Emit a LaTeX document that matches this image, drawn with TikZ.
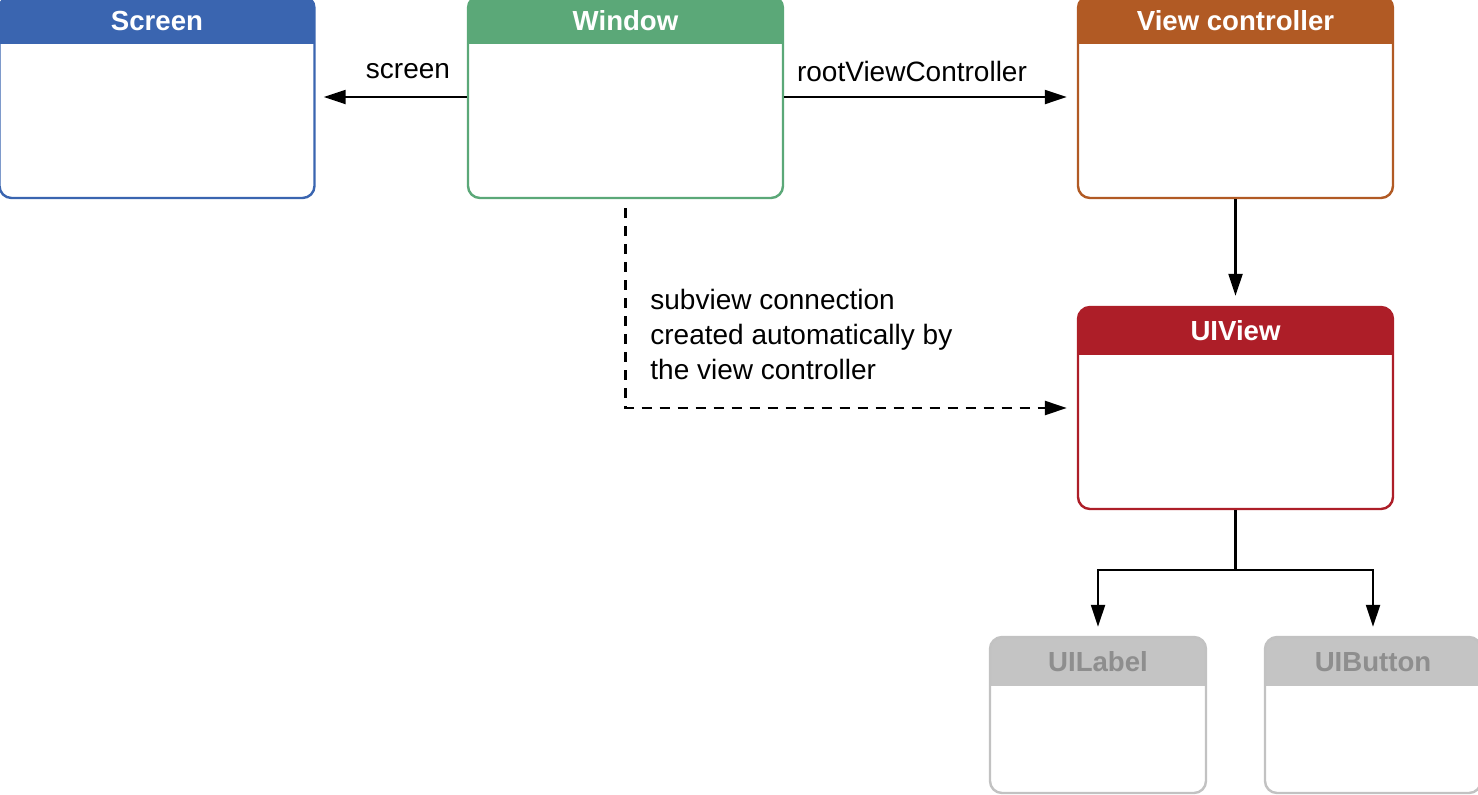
\documentclass[tikz,border=0pt]{standalone}
\usepackage{fontspec}
\setmainfont{Liberation Sans}
\usetikzlibrary{arrows.meta}
\definecolor{cblue}{HTML}{3A65B0}
\definecolor{cgreen}{HTML}{5BA878}
\definecolor{corange}{HTML}{B15A24}
\definecolor{cred}{HTML}{AD1E28}
\definecolor{cgrayh}{HTML}{C4C4C4}
\definecolor{cgrayt}{HTML}{8E8E8E}
\definecolor{cgrayb}{HTML}{C2C2C2}
\begin{document}
\begin{tikzpicture}[x=0.5pt,y=-0.5pt,
  objbox/.style={draw=#1, line width=1.2pt, rounded corners=6pt, fill=white,
    minimum width=157.5pt, minimum height=101pt, inner sep=0pt,
    path picture={\fill[#1, sharp corners] (path picture bounding box.north west) rectangle ([yshift=-24pt]path picture bounding box.north east);}},
  smallbox/.style={draw=cgrayb, line width=1.2pt, rounded corners=6pt, fill=white,
    minimum width=108pt, minimum height=78pt, inner sep=0pt,
    path picture={\fill[cgrayh, sharp corners] (path picture bounding box.north west) rectangle ([yshift=-24.5pt]path picture bounding box.north east);}},
  htitle/.style={text=#1, font=\fontsize{13.8}{16}\selectfont\bfseries, inner sep=0pt},
  lbl/.style={font=\fontsize{14}{17.5}\selectfont, inner sep=0pt},
  conn/.style={line width=1.1pt},
  arr/.style={line width=1.1pt, -{Triangle[length=11pt,width=7pt]}},
  dsh/.style={line width=1.2pt, dash pattern=on 5pt off 4pt, -{Triangle[length=11pt,width=7pt]}}
]
\useasboundingbox (0,0) rectangle (1478,794);
% boxes
\node[objbox=cblue] (screen) at (157,97) {};
\node[objbox=cgreen] (window) at (625.5,97) {};
\node[objbox=corange] (vc) at (1235.5,97) {};
\node[objbox=cred] (uiview) at (1235.5,408) {};
\node[smallbox] (uilabel) at (1098,715) {};
\node[smallbox] (uibutton) at (1373,715) {};
% titles
\node[htitle=white] (screen-t) at (157,21) {Screen};
\node[htitle=white] (window-t) at (625.5,21) {Window};
\node[htitle=white] (vc-t) at (1235.5,21) {View controller};
\node[htitle=white] (uiview-t) at (1235.5,331) {UIView};
\node[htitle=cgrayt] (uilabel-t) at (1098,662) {UILabel};
\node[htitle=cgrayt] (uibutton-t) at (1373,662) {UIButton};
% connectors
\draw[arr, shorten >=4pt] (window.west) -- (screen.east);
\draw[arr, shorten >=5pt] (window.east) -- (vc.west);
\draw[arr, shorten >=5pt] (vc.south) -- (uiview.north);
\draw[dsh, shorten <=4.5pt, shorten >=5pt] (window.south) |- (uiview.west);
\coordinate (split) at (1235.5,570);
\draw[conn] (uiview.south) -- (split);
\draw[arr, shorten >=4.5pt] (split) -| (uilabel.north);
\draw[arr, shorten >=4.5pt] (split) -| (uibutton.north);
% labels
\node[lbl] (screen-l) at (408,71) {screen};
\node[lbl] (root-l) at (912,71) {rootViewController};
\node[lbl, anchor=west, align=left] (sub-l) at (650,334) {subview connection\\created automatically by\\the view controller};
\end{tikzpicture}
\end{document}
